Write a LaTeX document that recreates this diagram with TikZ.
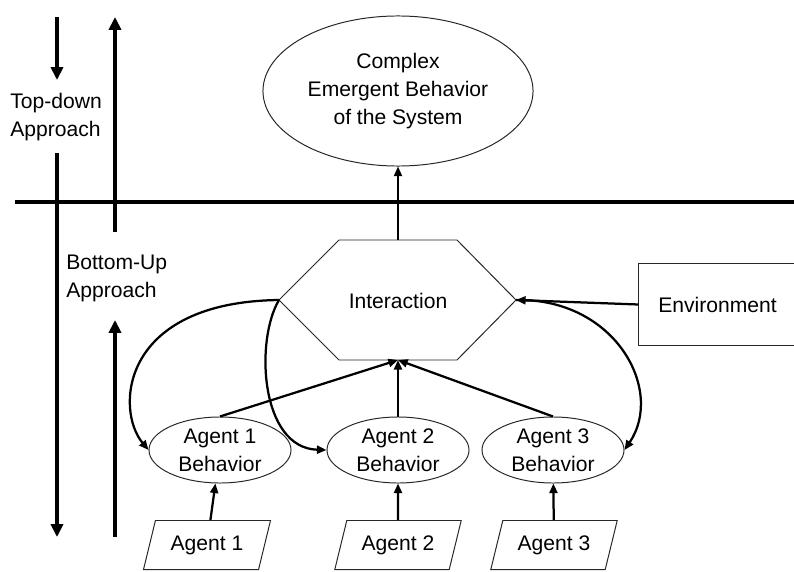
\documentclass[tikz,border=0pt]{standalone}
\usepackage{fontspec}
\setmainfont{Liberation Sans}
\usetikzlibrary{arrows.meta, shapes.geometric}

\begin{document}
\begin{tikzpicture}[
    x=0.025cm, y=-0.025cm,
    every node/.style={font=\fontsize{15}{20}\selectfont},
    outline/.style={draw=black!85, line width=0.7pt},
    oval/.style={outline, ellipse, inner sep=0pt, align=center},
    agentbox/.style={outline, trapezium, trapezium left angle=66, trapezium right angle=114, trapezium stretches=true, minimum width=3.175cm, minimum height=1.225cm, inner sep=0pt},
    label/.style={align=left, anchor=west, inner sep=0pt},
    conn/.style={-{Triangle[length=2.4mm, width=2mm]}, line width=1.6pt},
    bigarrow/.style={-{Triangle[length=3.2mm, width=3mm]}, line width=2.8pt}
  ]
  \useasboundingbox (0,0) rectangle (794,571);

  % approach arrows on the left
  \coordinate (tdTop) at (57,17);
  \coordinate (tdMid) at (57,80);
  \coordinate (tdLow) at (57,153);
  \coordinate (tdEnd) at (57,537);
  \coordinate (buTop) at (115,17);
  \coordinate (buMid) at (115,232);
  \coordinate (buLow) at (115,320);
  \coordinate (buEnd) at (115,537);
  \draw[bigarrow] (tdTop) -- (tdMid);
  \draw[bigarrow] (tdLow) -- (tdEnd);
  \draw[bigarrow] (buMid) -- (buTop);
  \draw[bigarrow] (buEnd) -- (buLow);
  \node[label] (topdown) at (10,117) {Top-down\\Approach};
  \node[label] (bottomup) at (66,278) {Bottom-Up\\Approach};

  % divider
  \coordinate (divL) at (15,202);
  \coordinate (divR) at (794,202);
  \draw[line width=3.5pt] (divL) -- (divR);

  % system level
  \node[oval, minimum width=6.75cm, minimum height=3.75cm] (emerge) at (398,91) {Complex\\Emergent Behavior\\of the System};

  % interaction hexagon
  \coordinate (hexL) at (279,300);
  \coordinate (hexTL) at (339,240);
  \coordinate (hexTR) at (457,240);
  \coordinate (hexR) at (516,300);
  \coordinate (hexBR) at (457,360);
  \coordinate (hexBL) at (339,360);
  \coordinate (hexT) at (398,240);
  \coordinate (hexB) at (398,360);
  \draw[outline] (hexL) -- (hexTL) -- (hexTR) -- (hexR) -- (hexBR) -- (hexBL) -- cycle;
  \node (interact) at (398,301) {Interaction};

  \node[outline, minimum width=3.925cm, minimum height=2.025cm, inner sep=0pt] (env) at (717.5,304.5) {Environment};

  % agents
  \node[oval, minimum width=3.55cm, minimum height=1.65cm] (beh1) at (220,450) {Agent 1\\Behavior};
  \node[oval, minimum width=3.55cm, minimum height=1.65cm] (beh2) at (398,450) {Agent 2\\Behavior};
  \node[oval, minimum width=3.55cm, minimum height=1.65cm] (beh3) at (553,450) {Agent 3\\Behavior};
  \node[agentbox] (agent1) at (207,545) {Agent 1};
  \node[agentbox] (agent2) at (398,545) {Agent 2};
  \node[agentbox] (agent3) at (554,545) {Agent 3};

  % connectors
  \draw[conn] (agent1) -- (beh1);
  \draw[conn] (agent2) -- (beh2);
  \draw[conn] (agent3) -- (beh3);
  \draw[conn] (beh1.north) -- (hexB);
  \draw[conn] (beh2.north) -- (hexB);
  \draw[conn] (beh3.north) -- (hexB);
  \draw[conn, line width=1.3pt] (hexT) -- (emerge.south);
  \draw[conn] (env.west) -- (hexR);
  \draw[conn] (hexL) .. controls (120,302) and (115,410) .. (beh1.west);
  \draw[conn] (hexL) .. controls (255,340) and (260,448) .. (beh2.west);
  \draw[conn] (hexR) .. controls (615,298) and (665,390) .. (beh3.east);
\end{tikzpicture}
\end{document}
